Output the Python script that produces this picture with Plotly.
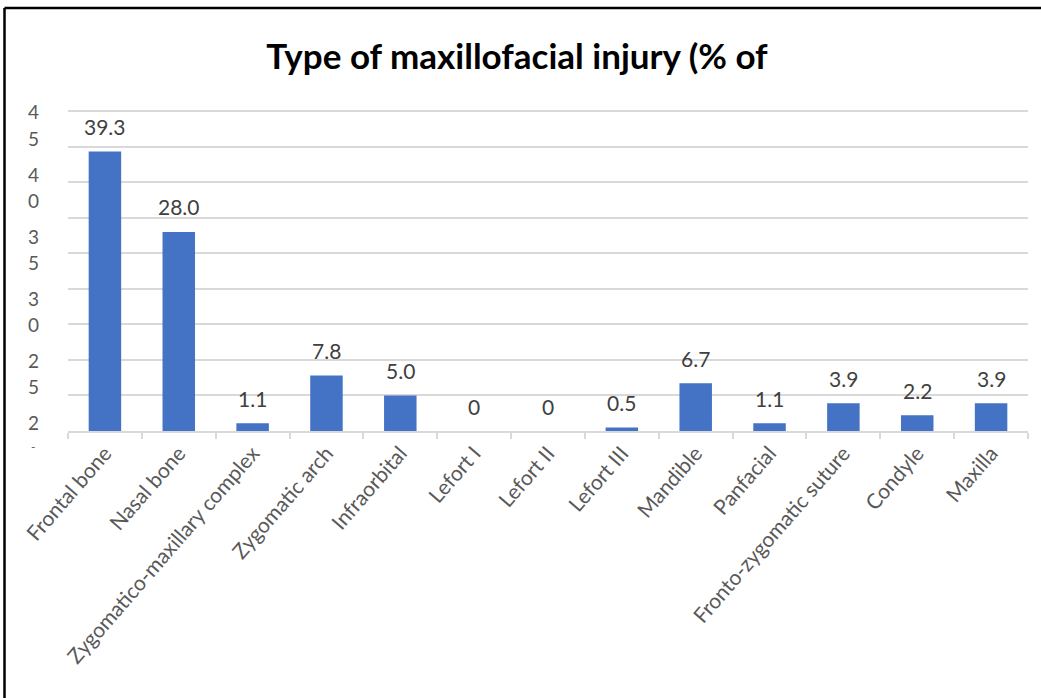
import plotly.graph_objects as go

categories = ["Frontal bone", "Nasal bone", "Zygomatico-maxillary complex", "Zygomatic arch",
              "Infraorbital", "Lefort I", "Lefort II", "Lefort III", "Mandible", "Panfacial",
              "Fronto-zygomatic suture", "Condyle", "Maxilla"]
values = [39.3, 28.0, 1.1, 7.8, 5.0, 0, 0, 0.5, 6.7, 1.1, 3.9, 2.2, 3.9]
value_labels = ["39.3", "28.0", "1.1", "7.8", "5.0", "0", "0", "0.5", "6.7", "1.1", "3.9", "2.2", "3.9"]
ytick_labels = ["45", "40", "35", "30", "25", "2"]
title_text = "Type of maxillofacial injury (% of"

W, H = 1041, 698
L, R, T, B = 68, 13, 109, 267
PW, PH = W - L - R, H - T - B
Y_TOP = 45 * PH / 320.0  # keep 45 -> 320 px scale, with a sliver above the top gridline
FONT = "Lato"
BAR = "#4472C4"
GRID = "#D9D9D9"
TXT = "#595959"


def px_x(p):
    return (p - L) / PW


def px_y(p):
    return (H - B - p) / PH


fig = go.Figure()
fig.add_trace(go.Bar(x=categories, y=values, marker=dict(color=BAR, line=dict(width=0)),
                     hoverinfo="x+y"))

annotations = []
for c, v, t in zip(categories, values, value_labels):
    annotations.append(dict(x=c, y=v, xref="x", yref="y", text=t, showarrow=False,
                            yanchor="middle", yshift=25,
                            font=dict(family=FONT, size=21, color="#404040")))

# wrapped (garbled) y-axis tick labels, as in the source
for i, lab in enumerate(ytick_labels):
    centre = 125 + 62 * i
    chars = list(lab)
    n = len(chars)
    for j, ch in enumerate(chars):
        py = centre + (j - (n - 1) / 2) * 26 if n > 1 else centre - 13
        annotations.append(dict(x=px_x(33), y=px_y(py), xref="paper", yref="paper",
                                text=ch, showarrow=False, xanchor="center", yanchor="middle",
                                font=dict(family=FONT, size=19, color=TXT)))
annotations.append(dict(x=px_x(33), y=px_y(446), xref="paper", yref="paper", text="-",
                        showarrow=False, xanchor="center", yanchor="middle",
                        font=dict(family=FONT, size=12, color=TXT)))

shapes = [
    dict(type="line", xref="paper", yref="paper", x0=px_x(4.5), x1=px_x(W + 5),
         y0=px_y(8), y1=px_y(8), line=dict(color="#000000", width=2.5)),
    dict(type="line", xref="paper", yref="paper", x0=px_x(4.5), x1=px_x(4.5),
         y0=px_y(8), y1=px_y(H + 5), line=dict(color="#000000", width=2.5)),
]

fig.update_layout(
    width=W, height=H,
    margin=dict(l=L, r=R, t=T, b=B, autoexpand=False),
    paper_bgcolor="white", plot_bgcolor="white",
    bargap=0.56,
    showlegend=False,
    title=dict(text=title_text, x=517 / W, xanchor="center",
               y=1 - 57 / H, yanchor="middle",
               font=dict(family=FONT, size=35, color="#000000", weight=700)),
    font=dict(family=FONT, color=TXT),
    annotations=annotations,
    shapes=shapes,
)
fig.update_xaxes(showline=True, linecolor=GRID, linewidth=1.5, ticks="outside",
                 tickson="boundaries", ticklen=6, tickcolor=GRID, tickwidth=1.5,
                 tickangle=-49, tickfont=dict(family=FONT, size=21, color=TXT),
                 showgrid=False, fixedrange=True)
fig.update_yaxes(range=[0, Y_TOP], tick0=0, dtick=5, showticklabels=False, showgrid=True,
                 gridcolor=GRID, gridwidth=1.5, zeroline=False, fixedrange=True)

fig.write_html("out.html", config={"displayModeBar": False},
               post_script="document.body.style.margin='0';document.body.style.overflow='hidden';")
